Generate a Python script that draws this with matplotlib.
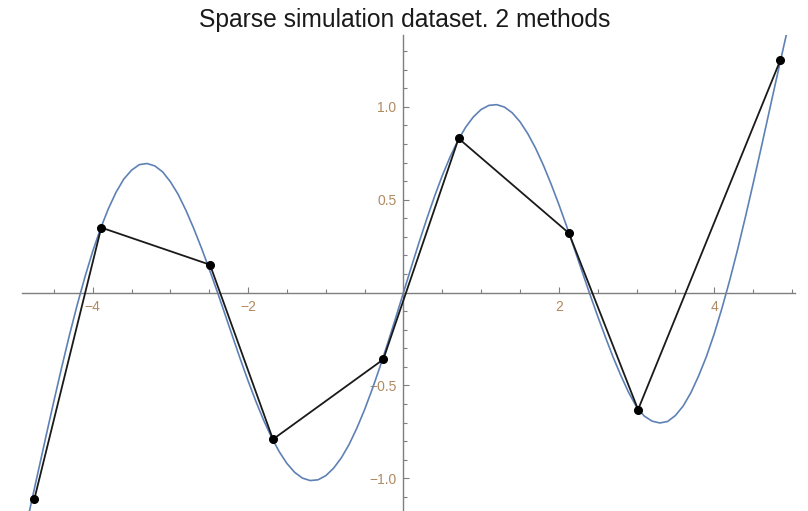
import matplotlib
matplotlib.use('Agg')
import matplotlib.pyplot as plt
import numpy as np
from matplotlib.ticker import MultipleLocator, FixedLocator

plt.rcParams.update({'font.family': ['Liberation Sans', 'DejaVu Sans']})

# smooth curve at x = -5.0 ... 5.0 (step 0.1)
curve_x = np.linspace(-5.0, 5.0, 101)
curve_y = [-1.519, -1.336, -1.149, -0.960, -0.771, -0.585, -0.404, -0.230, -0.067, 0.084,
           0.222, 0.344, 0.450, 0.540, 0.611, 0.659, 0.689, 0.695, 0.682, 0.650,
           0.597, 0.529, 0.443, 0.346, 0.240, 0.127, 0.009, -0.113, -0.236, -0.358,
           -0.475, -0.585, -0.687, -0.778, -0.856, -0.920, -0.968, -0.999, -1.012, -1.008,
           -0.986, -0.946, -0.890, -0.818, -0.730, -0.630, -0.518, -0.397, -0.269, -0.136,
           0.000,
           0.136, 0.269, 0.397, 0.518, 0.630, 0.730, 0.818, 0.890, 0.946, 0.986,
           1.008, 1.012, 0.999, 0.968, 0.920, 0.856, 0.778, 0.687, 0.585, 0.475,
           0.358, 0.236, 0.113, -0.009, -0.127, -0.240, -0.349, -0.448, -0.539, -0.615,
           -0.665, -0.692, -0.702, -0.694, -0.662, -0.611, -0.539, -0.448, -0.344, -0.222,
           -0.084, 0.067, 0.230, 0.404, 0.585, 0.771, 0.960, 1.149, 1.336, 1.519]

# sparse samples joined by straight segments
pts_x = [-4.75, -3.89, -2.49, -1.68, -0.26, 0.71, 2.13, 3.02, 4.85]
pts_y = [-1.11, 0.35, 0.15, -0.79, -0.36, 0.83, 0.32, -0.63, 1.25]

xticks = [-4, -2, 2, 4]
yticks = [-1.0, -0.5, 0.5, 1.0]
title = 'Sparse simulation dataset. 2 methods'

W, H = 808, 511
fig = plt.figure(figsize=(W/100, H/100), dpi=100)
ax = fig.add_axes([22/W, 0, (795-22)/W, (511-35)/H])

ax.plot(curve_x, curve_y, color='#5e81b5', lw=1.2, zorder=2)
ax.plot(pts_x, pts_y, color='#1a1a1a', lw=1.3, zorder=3)
ax.plot(pts_x, pts_y, 'o', color='black', ms=5.5, zorder=4)

ax.set_xlim(-4.91, 5.04)
ax.set_ylim(-1.176, 1.387)

for s in ['top', 'right']:
    ax.spines[s].set_visible(False)
ax.spines['left'].set_position(('data', 0))
ax.spines['bottom'].set_position(('data', 0))
for s in ['left', 'bottom']:
    ax.spines[s].set_color('#7f7f7f')
    ax.spines[s].set_linewidth(1.0)

ax.xaxis.set_major_locator(FixedLocator(xticks))
ax.xaxis.set_minor_locator(MultipleLocator(0.5))
ax.yaxis.set_major_locator(FixedLocator(yticks))
ax.yaxis.set_minor_locator(MultipleLocator(0.1))
ax.set_yticklabels(['\u22121.0', '\u22120.5', '0.5', '1.0'])
ax.set_xticklabels(['\u22124', '\u22122', '2', '4'])

lab_col = '#b08a60'
ax.tick_params(which='major', direction='in', length=4.5, width=0.8, color='#7f7f7f',
               labelsize=10, labelcolor=lab_col, pad=5)
ax.tick_params(which='minor', direction='in', length=2.8, width=0.8, color='#7f7f7f')

fig.text(405/W, 1 - 27/H, title, ha='center', va='baseline', fontsize=17.7, color='#1a1a1a')

fig.savefig('out.png', dpi=100)
